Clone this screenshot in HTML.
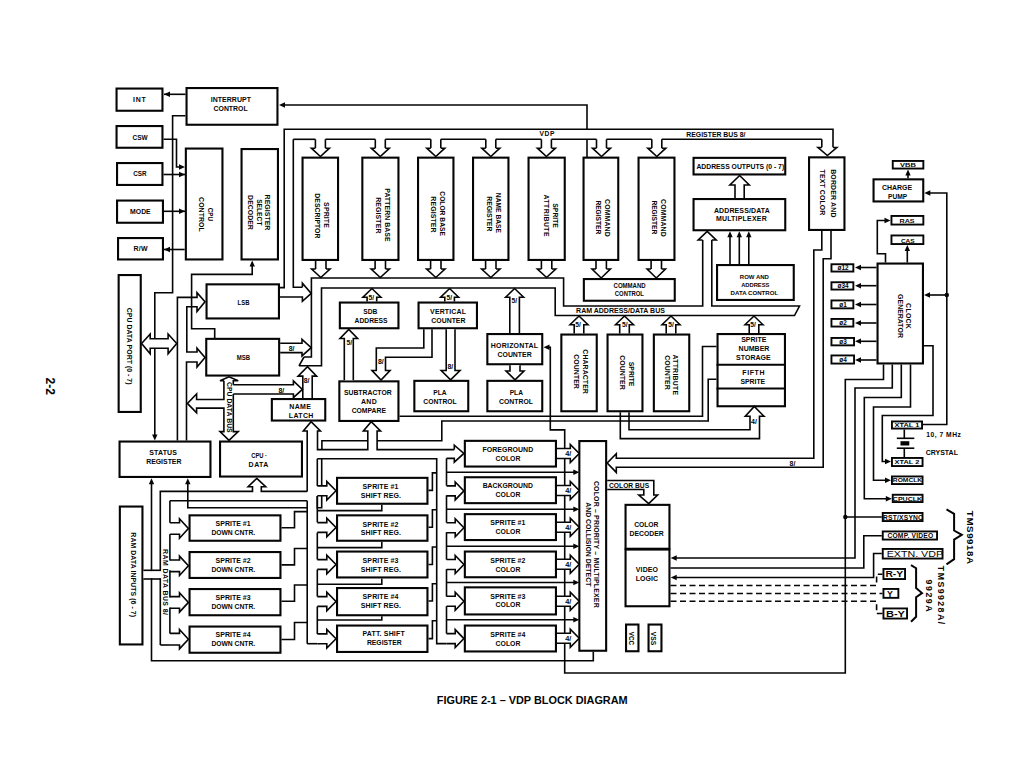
<!DOCTYPE html>
<html><head><meta charset="utf-8"><title>VDP Block Diagram</title>
<style>html,body{margin:0;padding:0;background:#fff;width:1024px;height:768px;overflow:hidden}svg{display:block;font-family:"Liberation Sans",sans-serif}</style>
</head><body>
<svg width="1024" height="768" viewBox="0 0 1024 768" font-family="Liberation Sans, sans-serif" fill="#050505">
<polyline points="185.5,94.3 164,94.3" fill="none" stroke="#050505" stroke-width="1.6" stroke-linejoin="miter"/>
<polygon points="164,94.3 170,91.6 170,97" fill="#050505"/>
<polyline points="185.5,115.8 172.6,115.8 172.6,292.8 154.8,292.8 154.8,436" fill="none" stroke="#050505" stroke-width="1.6" stroke-linejoin="miter"/>
<polygon points="154.8,440.5 152.1,434.5 157.5,434.5" fill="#050505"/>
<polyline points="587,129.2 587,105 283,105" fill="none" stroke="#050505" stroke-width="1.6" stroke-linejoin="miter"/>
<polyline points="587,139.3 587,157" fill="none" stroke="#050505" stroke-width="1.6" stroke-linejoin="miter"/>
<polygon points="279,105 285,102.3 285,107.7" fill="#050505"/>
<polyline points="163.5,139.3 176.5,139.3 176.5,167 180,167" fill="none" stroke="#050505" stroke-width="1.6" stroke-linejoin="miter"/>
<polygon points="185,167 179,164.3 179,169.7" fill="#050505"/>
<polyline points="163.5,174.5 185,174.5" fill="none" stroke="#050505" stroke-width="1.6" stroke-linejoin="miter"/>
<polygon points="185,174.5 179,171.8 179,177.2" fill="#050505"/>
<polyline points="164,211.3 185,211.3" fill="none" stroke="#050505" stroke-width="1.6" stroke-linejoin="miter"/>
<polygon points="185,211.3 179,208.6 179,214" fill="#050505"/>
<polyline points="184.7,249.5 164,249.5" fill="none" stroke="#050505" stroke-width="1.6" stroke-linejoin="miter"/>
<polygon points="164,249.5 170,246.8 170,252.2" fill="#050505"/>
<polyline points="214.7,338 214.7,328.7 191.6,328.7 191.6,274.4 252.2,274.4 252.2,264" fill="none" stroke="#050505" stroke-width="1.6" stroke-linejoin="miter"/>
<polygon points="252.2,260.5 249.5,266.5 254.9,266.5" fill="#050505"/>
<polyline points="280,287.6 284.2,287.6 284.2,129.2 833,129.2 833,147.5" fill="none" stroke="#050505" stroke-width="1.6" stroke-linejoin="miter"/>
<polyline points="293.3,139.3 315.4,139.3" fill="none" stroke="#050505" stroke-width="1.6" stroke-linejoin="miter"/>
<polyline points="325.4,139.3 375.3,139.3" fill="none" stroke="#050505" stroke-width="1.6" stroke-linejoin="miter"/>
<polyline points="385.3,139.3 430.8,139.3" fill="none" stroke="#050505" stroke-width="1.6" stroke-linejoin="miter"/>
<polyline points="440.8,139.3 485.8,139.3" fill="none" stroke="#050505" stroke-width="1.6" stroke-linejoin="miter"/>
<polyline points="495.8,139.3 541.4,139.3" fill="none" stroke="#050505" stroke-width="1.6" stroke-linejoin="miter"/>
<polyline points="551.4,139.3 596.5,139.3" fill="none" stroke="#050505" stroke-width="1.6" stroke-linejoin="miter"/>
<polyline points="606.5,139.3 651.8,139.3" fill="none" stroke="#050505" stroke-width="1.6" stroke-linejoin="miter"/>
<polyline points="661.8,139.3 821.8,139.3" fill="none" stroke="#050505" stroke-width="1.6" stroke-linejoin="miter"/>
<polyline points="293.3,139.3 293.3,287.3 302.4,287.3" fill="none" stroke="#050505" stroke-width="1.6" stroke-linejoin="miter"/>
<polyline points="821.8,139.3 821.8,147.5" fill="none" stroke="#050505" stroke-width="1.6" stroke-linejoin="miter"/>
<polyline points="315.4,139.3 315.4,148.2" fill="none" stroke="#050505" stroke-width="1.6" stroke-linejoin="miter"/>
<polyline points="325.4,139.3 325.4,148.2" fill="none" stroke="#050505" stroke-width="1.6" stroke-linejoin="miter"/>
<polyline points="315.4,148.2 311.4,148.2 320.4,156.5 329.4,148.2 325.4,148.2" fill="#fff" stroke="#050505" stroke-width="1.6" stroke-linejoin="miter"/>
<polyline points="375.3,139.3 375.3,148.2" fill="none" stroke="#050505" stroke-width="1.6" stroke-linejoin="miter"/>
<polyline points="385.3,139.3 385.3,148.2" fill="none" stroke="#050505" stroke-width="1.6" stroke-linejoin="miter"/>
<polyline points="375.3,148.2 371.3,148.2 380.3,156.5 389.3,148.2 385.3,148.2" fill="#fff" stroke="#050505" stroke-width="1.6" stroke-linejoin="miter"/>
<polyline points="430.8,139.3 430.8,148.2" fill="none" stroke="#050505" stroke-width="1.6" stroke-linejoin="miter"/>
<polyline points="440.8,139.3 440.8,148.2" fill="none" stroke="#050505" stroke-width="1.6" stroke-linejoin="miter"/>
<polyline points="430.8,148.2 426.8,148.2 435.8,156.5 444.8,148.2 440.8,148.2" fill="#fff" stroke="#050505" stroke-width="1.6" stroke-linejoin="miter"/>
<polyline points="485.8,139.3 485.8,148.2" fill="none" stroke="#050505" stroke-width="1.6" stroke-linejoin="miter"/>
<polyline points="495.8,139.3 495.8,148.2" fill="none" stroke="#050505" stroke-width="1.6" stroke-linejoin="miter"/>
<polyline points="485.8,148.2 481.8,148.2 490.8,156.5 499.8,148.2 495.8,148.2" fill="#fff" stroke="#050505" stroke-width="1.6" stroke-linejoin="miter"/>
<polyline points="541.4,139.3 541.4,148.2" fill="none" stroke="#050505" stroke-width="1.6" stroke-linejoin="miter"/>
<polyline points="551.4,139.3 551.4,148.2" fill="none" stroke="#050505" stroke-width="1.6" stroke-linejoin="miter"/>
<polyline points="541.4,148.2 537.4,148.2 546.4,156.5 555.4,148.2 551.4,148.2" fill="#fff" stroke="#050505" stroke-width="1.6" stroke-linejoin="miter"/>
<polyline points="596.5,139.3 596.5,148.2" fill="none" stroke="#050505" stroke-width="1.6" stroke-linejoin="miter"/>
<polyline points="606.5,139.3 606.5,148.2" fill="none" stroke="#050505" stroke-width="1.6" stroke-linejoin="miter"/>
<polyline points="596.5,148.2 592.5,148.2 601.5,156.5 610.5,148.2 606.5,148.2" fill="#fff" stroke="#050505" stroke-width="1.6" stroke-linejoin="miter"/>
<polyline points="651.8,139.3 651.8,148.2" fill="none" stroke="#050505" stroke-width="1.6" stroke-linejoin="miter"/>
<polyline points="661.8,139.3 661.8,148.2" fill="none" stroke="#050505" stroke-width="1.6" stroke-linejoin="miter"/>
<polyline points="651.8,148.2 647.8,148.2 656.8,156.5 665.8,148.2 661.8,148.2" fill="#fff" stroke="#050505" stroke-width="1.6" stroke-linejoin="miter"/>
<polyline points="821.8,147.5 818,147.5 827.4,155.5 836.8,147.5 833,147.5" fill="#fff" stroke="#050505" stroke-width="1.6" stroke-linejoin="miter"/>
<polyline points="304,357 311.4,357 311.4,278 563.6,278 563.6,306 702.7,306 702.7,240" fill="none" stroke="#050505" stroke-width="1.6" stroke-linejoin="miter"/>
<polyline points="299,365.8 321.5,365.8 321.5,288 555.2,288 555.2,315.5 794.5,315.5 799.5,306 711.8,306 711.8,240" fill="none" stroke="#050505" stroke-width="1.6" stroke-linejoin="miter"/>
<polyline points="304,357 299,365.8" fill="none" stroke="#050505" stroke-width="1.6" stroke-linejoin="miter"/>
<polyline points="315.6,261 315.6,269" fill="none" stroke="#050505" stroke-width="1.6" stroke-linejoin="miter"/>
<polyline points="326,261 326,269" fill="none" stroke="#050505" stroke-width="1.6" stroke-linejoin="miter"/>
<polyline points="315.6,269 311.6,269 320.8,277.5 330,269 326,269" fill="#fff" stroke="#050505" stroke-width="1.6" stroke-linejoin="miter"/>
<polyline points="375.1,261 375.1,269" fill="none" stroke="#050505" stroke-width="1.6" stroke-linejoin="miter"/>
<polyline points="385.5,261 385.5,269" fill="none" stroke="#050505" stroke-width="1.6" stroke-linejoin="miter"/>
<polyline points="375.1,269 371.1,269 380.3,277.5 389.5,269 385.5,269" fill="#fff" stroke="#050505" stroke-width="1.6" stroke-linejoin="miter"/>
<polyline points="430.6,261 430.6,269" fill="none" stroke="#050505" stroke-width="1.6" stroke-linejoin="miter"/>
<polyline points="441,261 441,269" fill="none" stroke="#050505" stroke-width="1.6" stroke-linejoin="miter"/>
<polyline points="430.6,269 426.6,269 435.8,277.5 445,269 441,269" fill="#fff" stroke="#050505" stroke-width="1.6" stroke-linejoin="miter"/>
<polyline points="485.6,261 485.6,269" fill="none" stroke="#050505" stroke-width="1.6" stroke-linejoin="miter"/>
<polyline points="496,261 496,269" fill="none" stroke="#050505" stroke-width="1.6" stroke-linejoin="miter"/>
<polyline points="485.6,269 481.6,269 490.8,277.5 500,269 496,269" fill="#fff" stroke="#050505" stroke-width="1.6" stroke-linejoin="miter"/>
<polyline points="541.4,261 541.4,269" fill="none" stroke="#050505" stroke-width="1.6" stroke-linejoin="miter"/>
<polyline points="551.8,261 551.8,269" fill="none" stroke="#050505" stroke-width="1.6" stroke-linejoin="miter"/>
<polyline points="541.4,269 537.4,269 546.6,277.5 555.8,269 551.8,269" fill="#fff" stroke="#050505" stroke-width="1.6" stroke-linejoin="miter"/>
<polyline points="596,260 596,269" fill="none" stroke="#050505" stroke-width="1.6" stroke-linejoin="miter"/>
<polyline points="606.4,260 606.4,269" fill="none" stroke="#050505" stroke-width="1.6" stroke-linejoin="miter"/>
<polyline points="596,269 592,269 601.2,278 610.4,269 606.4,269" fill="#fff" stroke="#050505" stroke-width="1.6" stroke-linejoin="miter"/>
<polyline points="651.1,260 651.1,269" fill="none" stroke="#050505" stroke-width="1.6" stroke-linejoin="miter"/>
<polyline points="661.5,260 661.5,269" fill="none" stroke="#050505" stroke-width="1.6" stroke-linejoin="miter"/>
<polyline points="651.1,269 647.1,269 656.3,278 665.5,269 661.5,269" fill="#fff" stroke="#050505" stroke-width="1.6" stroke-linejoin="miter"/>
<polyline points="280,297 302.4,297 302.4,301.3 311.2,293.4 302.4,283.2 302.4,287.3" fill="none" stroke="#050505" stroke-width="1.6" stroke-linejoin="miter"/>
<polyline points="280.2,343.3 302,343.3 302,339.4 311.2,347.7 302,355.9 302,352.6 280.2,352.6" fill="none" stroke="#050505" stroke-width="1.6" stroke-linejoin="miter"/>
<polyline points="302.8,398 302.8,376.1 298.1,376.1 307.5,366.7 316.6,376.1 312.2,376.1 312.2,398" fill="none" stroke="#050505" stroke-width="1.6" stroke-linejoin="miter"/>
<polyline points="233.3,384.7 293.4,384.7 293.4,380.8 302.4,389.4 293.4,397.6 293.4,394 233.3,394" fill="none" stroke="#050505" stroke-width="1.6" stroke-linejoin="miter"/>
<polyline points="367.1,301.5 367.1,297.3 362.9,297.3 371.9,288.5 380.9,297.3 376.7,297.3 376.7,301.5" fill="#fff" stroke="#050505" stroke-width="1.6" stroke-linejoin="miter"/>
<polyline points="444.8,301.5 444.8,297.3 440.6,297.3 449.6,288.5 458.6,297.3 454.4,297.3 454.4,301.5" fill="#fff" stroke="#050505" stroke-width="1.6" stroke-linejoin="miter"/>
<polyline points="509.8,333 509.8,297.3 505.6,297.3 514.6,288.5 523.6,297.3 519.4,297.3 519.4,333" fill="#fff" stroke="#050505" stroke-width="1.6" stroke-linejoin="miter"/>
<polyline points="574.2,333.5 574.2,324.8 570,324.8 579,316 588,324.8 583.8,324.8 583.8,333.5" fill="#fff" stroke="#050505" stroke-width="1.6" stroke-linejoin="miter"/>
<polyline points="619.7,333.5 619.7,324.8 615.5,324.8 624.5,316 633.5,324.8 629.3,324.8 629.3,333.5" fill="#fff" stroke="#050505" stroke-width="1.6" stroke-linejoin="miter"/>
<polyline points="666.2,333.5 666.2,324.8 662,324.8 671,316 680,324.8 675.8,324.8 675.8,333.5" fill="#fff" stroke="#050505" stroke-width="1.6" stroke-linejoin="miter"/>
<polyline points="749.2,333 749.2,324.8 745,324.8 754,316 763,324.8 758.8,324.8 758.8,333" fill="#fff" stroke="#050505" stroke-width="1.6" stroke-linejoin="miter"/>
<polyline points="702.6,240 702.6,240 698.2,240 707.2,231.3 716.2,240 711.8,240 711.8,240" fill="#fff" stroke="#050505" stroke-width="1.6" stroke-linejoin="miter"/>
<polyline points="735,198 735,185 729.9,185 739.6,175.5 749.3,185 744.2,185 744.2,198" fill="#fff" stroke="#050505" stroke-width="1.6" stroke-linejoin="miter"/>
<polyline points="730,264 730,235" fill="none" stroke="#050505" stroke-width="1.6" stroke-linejoin="miter"/>
<polygon points="730,231.3 727.3,237.3 732.7,237.3" fill="#050505"/>
<polyline points="739.3,264 739.3,235" fill="none" stroke="#050505" stroke-width="1.6" stroke-linejoin="miter"/>
<polygon points="739.3,231.3 736.6,237.3 742,237.3" fill="#050505"/>
<polyline points="748.8,264 748.8,235" fill="none" stroke="#050505" stroke-width="1.6" stroke-linejoin="miter"/>
<polygon points="748.8,231.3 746.1,237.3 751.5,237.3" fill="#050505"/>
<rect x="116.55" y="88.55" width="45.9" height="22.2" fill="#fff" stroke="#050505" stroke-width="2.1"/>
<rect x="116.55" y="126.05" width="45.9" height="21.7" fill="#fff" stroke="#050505" stroke-width="2.1"/>
<rect x="117.05" y="163.05" width="45.4" height="21.9" fill="#fff" stroke="#050505" stroke-width="2.1"/>
<rect x="117.05" y="200.55" width="45.9" height="22.2" fill="#fff" stroke="#050505" stroke-width="2.1"/>
<rect x="118.05" y="238.05" width="44.9" height="21.4" fill="#fff" stroke="#050505" stroke-width="2.1"/>
<rect x="186.55" y="88.05" width="90.9" height="36.7" fill="#fff" stroke="#050505" stroke-width="2.1"/>
<rect x="185.85" y="148.55" width="36.6" height="110.9" fill="#fff" stroke="#050505" stroke-width="2.1"/>
<rect x="241.55" y="149.05" width="36.4" height="110.4" fill="#fff" stroke="#050505" stroke-width="2.1"/>
<rect x="118.65" y="275.05" width="22.1" height="136.9" fill="#fff" stroke="#050505" stroke-width="2.1"/>
<rect x="206.55" y="284.35" width="72.4" height="34.1" fill="#fff" stroke="#050505" stroke-width="2.1"/>
<rect x="206.25" y="338.85" width="72.9" height="36.7" fill="#fff" stroke="#050505" stroke-width="2.1"/>
<rect x="271.85" y="399.05" width="53.4" height="21.5" fill="#fff" stroke="#050505" stroke-width="2.1"/>
<rect x="119.55" y="441.55" width="90.9" height="35.4" fill="#fff" stroke="#050505" stroke-width="2.1"/>
<rect x="220.05" y="441.55" width="81.9" height="35" fill="#fff" stroke="#050505" stroke-width="2.1"/>
<rect x="119.85" y="506.55" width="22.6" height="137.9" fill="#fff" stroke="#050505" stroke-width="2.1"/>
<rect x="189.55" y="515.35" width="90.9" height="25.4" fill="#fff" stroke="#050505" stroke-width="2.1"/>
<rect x="189.55" y="552.05" width="90.9" height="25.9" fill="#fff" stroke="#050505" stroke-width="2.1"/>
<rect x="189.55" y="589.05" width="90.9" height="26.2" fill="#fff" stroke="#050505" stroke-width="2.1"/>
<rect x="189.55" y="626.55" width="90.9" height="26.2" fill="#fff" stroke="#050505" stroke-width="2.1"/>
<rect x="302.55" y="157.65" width="35.5" height="102.3" fill="#fff" stroke="#050505" stroke-width="2.1"/>
<rect x="362.35" y="157.65" width="36.1" height="102.3" fill="#fff" stroke="#050505" stroke-width="2.1"/>
<rect x="418.05" y="157.65" width="35.4" height="102.3" fill="#fff" stroke="#050505" stroke-width="2.1"/>
<rect x="473.05" y="157.65" width="35.4" height="102.3" fill="#fff" stroke="#050505" stroke-width="2.1"/>
<rect x="528.55" y="157.65" width="36.2" height="102.3" fill="#fff" stroke="#050505" stroke-width="2.1"/>
<rect x="583.55" y="157.65" width="34.7" height="102.3" fill="#fff" stroke="#050505" stroke-width="2.1"/>
<rect x="638.55" y="157.65" width="35.9" height="102.3" fill="#fff" stroke="#050505" stroke-width="2.1"/>
<rect x="809.05" y="157.35" width="35.4" height="72.6" fill="#fff" stroke="#050505" stroke-width="2.1"/>
<rect x="693.55" y="157.85" width="91.7" height="16.6" fill="#fff" stroke="#050505" stroke-width="2.1"/>
<rect x="693.55" y="199.05" width="91.7" height="31.2" fill="#fff" stroke="#050505" stroke-width="2.1"/>
<rect x="717.05" y="265.05" width="76.7" height="34.9" fill="#fff" stroke="#050505" stroke-width="2.1"/>
<rect x="583.85" y="279.05" width="90.9" height="21.7" fill="#fff" stroke="#050505" stroke-width="2.1"/>
<rect x="339.85" y="302.55" width="58.6" height="25.7" fill="#fff" stroke="#050505" stroke-width="2.1"/>
<rect x="418.55" y="302.55" width="58.4" height="25.7" fill="#fff" stroke="#050505" stroke-width="2.1"/>
<rect x="487.35" y="334.05" width="54.9" height="30.2" fill="#fff" stroke="#050505" stroke-width="2.1"/>
<rect x="339.35" y="381.35" width="59.1" height="39.6" fill="#fff" stroke="#050505" stroke-width="2.1"/>
<rect x="414.35" y="380.85" width="53.9" height="30.4" fill="#fff" stroke="#050505" stroke-width="2.1"/>
<rect x="487.35" y="380.85" width="54.9" height="30.4" fill="#fff" stroke="#050505" stroke-width="2.1"/>
<rect x="561.35" y="334.55" width="35.4" height="76.7" fill="#fff" stroke="#050505" stroke-width="2.1"/>
<rect x="607.55" y="334.55" width="34.9" height="76.7" fill="#fff" stroke="#050505" stroke-width="2.1"/>
<rect x="653.85" y="334.55" width="35.4" height="76.7" fill="#fff" stroke="#050505" stroke-width="2.1"/>
<rect x="717.55" y="334.05" width="67.4" height="72.2" fill="#fff" stroke="#050505" stroke-width="2.1"/>
<polyline points="716.5,364.8 786,364.8" fill="none" stroke="#050505" stroke-width="2.1" stroke-linejoin="miter"/>
<polyline points="716.5,388.5 786,388.5" fill="none" stroke="#050505" stroke-width="2.1" stroke-linejoin="miter"/>
<rect x="337.05" y="477.85" width="90.4" height="25.9" fill="#fff" stroke="#050505" stroke-width="2.1"/>
<rect x="337.05" y="515.35" width="90.4" height="25.4" fill="#fff" stroke="#050505" stroke-width="2.1"/>
<rect x="337.05" y="551.55" width="90.4" height="25.9" fill="#fff" stroke="#050505" stroke-width="2.1"/>
<rect x="337.05" y="588.05" width="90.4" height="27.2" fill="#fff" stroke="#050505" stroke-width="2.1"/>
<rect x="337.05" y="625.55" width="90.4" height="26.4" fill="#fff" stroke="#050505" stroke-width="2.1"/>
<rect x="464.85" y="440.85" width="91.1" height="25.7" fill="#fff" stroke="#050505" stroke-width="2.1"/>
<rect x="464.85" y="477.25" width="91.1" height="25.9" fill="#fff" stroke="#050505" stroke-width="2.1"/>
<rect x="464.85" y="514.15" width="91.1" height="25.9" fill="#fff" stroke="#050505" stroke-width="2.1"/>
<rect x="464.85" y="551.55" width="91.1" height="25.7" fill="#fff" stroke="#050505" stroke-width="2.1"/>
<rect x="464.85" y="587.35" width="91.1" height="27.1" fill="#fff" stroke="#050505" stroke-width="2.1"/>
<rect x="464.85" y="625.55" width="91.1" height="25.9" fill="#fff" stroke="#050505" stroke-width="2.1"/>
<rect x="579.35" y="441.05" width="26.8" height="209.7" fill="#fff" stroke="#050505" stroke-width="2.1"/>
<rect x="625.55" y="504.85" width="43.9" height="43.9" fill="#fff" stroke="#050505" stroke-width="2.1"/>
<rect x="625.55" y="549.55" width="43.9" height="56.7" fill="#fff" stroke="#050505" stroke-width="2.1"/>
<rect x="626.05" y="624.55" width="12.4" height="26.7" fill="#fff" stroke="#050505" stroke-width="2.1"/>
<rect x="648.55" y="624.55" width="12.9" height="26.7" fill="#fff" stroke="#050505" stroke-width="2.1"/>
<rect x="892.75" y="160.95" width="30.6" height="7.6" fill="#fff" stroke="#050505" stroke-width="1.9"/>
<rect x="891.45" y="215.95" width="31.9" height="8.6" fill="#fff" stroke="#050505" stroke-width="1.9"/>
<rect x="891.45" y="235.45" width="31.9" height="8.6" fill="#fff" stroke="#050505" stroke-width="1.9"/>
<rect x="831.45" y="264.25" width="21.9" height="7.3" fill="#fff" stroke="#050505" stroke-width="1.9"/>
<rect x="831.45" y="282.25" width="21.9" height="7.3" fill="#fff" stroke="#050505" stroke-width="1.9"/>
<rect x="831.45" y="300.45" width="21.9" height="7.9" fill="#fff" stroke="#050505" stroke-width="1.9"/>
<rect x="831.45" y="318.95" width="21.9" height="7.6" fill="#fff" stroke="#050505" stroke-width="1.9"/>
<rect x="831.45" y="337.95" width="22.6" height="7.4" fill="#fff" stroke="#050505" stroke-width="1.9"/>
<rect x="831.45" y="355.45" width="22.6" height="8.1" fill="#fff" stroke="#050505" stroke-width="1.9"/>
<rect x="891.95" y="421.45" width="30.1" height="7.1" fill="#fff" stroke="#050505" stroke-width="1.9"/>
<rect x="891.95" y="457.95" width="30.6" height="8.1" fill="#fff" stroke="#050505" stroke-width="1.9"/>
<rect x="891.95" y="476.45" width="30.6" height="7.6" fill="#fff" stroke="#050505" stroke-width="1.9"/>
<rect x="892.75" y="494.75" width="29.8" height="7.3" fill="#fff" stroke="#050505" stroke-width="1.9"/>
<rect x="882.75" y="512.95" width="39.8" height="8.1" fill="#fff" stroke="#050505" stroke-width="1.9"/>
<rect x="882.75" y="531.45" width="54.3" height="8.1" fill="#fff" stroke="#050505" stroke-width="1.9"/>
<rect x="882.75" y="548.95" width="59.8" height="9.6" fill="#fff" stroke="#050505" stroke-width="1.9"/>
<rect x="883.45" y="568.95" width="21.6" height="10.1" fill="#fff" stroke="#050505" stroke-width="1.9"/>
<rect x="883.45" y="588.95" width="14.9" height="8.9" fill="#fff" stroke="#050505" stroke-width="1.9"/>
<rect x="883.45" y="608.45" width="23.6" height="10.1" fill="#fff" stroke="#050505" stroke-width="1.9"/>
<rect x="873.55" y="179.35" width="49.7" height="22.1" fill="#fff" stroke="#050505" stroke-width="2.1"/>
<rect x="877.55" y="263.55" width="45.4" height="99.9" fill="#fff" stroke="#050505" stroke-width="2.1"/>
<polygon points="141.6,343.5 150.2,334 150.2,338.8 168.1,338.8 168.1,334 176.7,343.5 168.1,353.7 168.1,348.2 150.2,348.2 150.2,353.7" fill="#fff" stroke="#050505" stroke-width="1.6" stroke-linejoin="miter"/>
<polyline points="177.4,440.5 177.4,297.4 197,297.4 197,292.7 205,301.8 197,311.5 197,306.8 186.8,306.8 186.8,352 197,352 197,348.2 205,357.6 197,367 197,362 186.5,362 186.5,440.5" fill="none" stroke="#050505" stroke-width="1.6" stroke-linejoin="miter"/>
<polyline points="223.9,380.8 223.9,399.5 196.6,399.5 196.6,394 187.4,403.4 196.6,412.8 196.6,408.1 223.9,408.1 223.9,431.6 220,431.6 229,440.3 238.2,431.6 233.3,431.6 233.3,394" fill="none" stroke="#050505" stroke-width="1.6" stroke-linejoin="miter"/>
<polyline points="233.3,384.7 233.3,380.8 238.2,380.8 229,376.8 220,380.8 223.9,380.8" fill="none" stroke="#050505" stroke-width="1.6" stroke-linejoin="miter"/>
<polyline points="160.3,645 160.3,491.4 252.5,491.4 252.5,486.7 248.1,486.7 256.8,478.3 265.7,486.7 261.3,486.7 261.3,491.4 307.2,491.4" fill="none" stroke="#050505" stroke-width="1.6" stroke-linejoin="miter"/>
<polyline points="151.5,482 151.5,660.8 593.3,660.8 593.3,651.8" fill="none" stroke="#050505" stroke-width="1.6" stroke-linejoin="miter"/>
<polygon points="151.5,478.2 148.8,484.2 154.2,484.2" fill="#050505"/>
<polyline points="187.8,482 187.8,507.8 307.2,507.8" fill="none" stroke="#050505" stroke-width="1.6" stroke-linejoin="miter"/>
<polygon points="187.8,478.2 185.1,484.2 190.5,484.2" fill="#050505"/>
<polyline points="307.2,643.7 307.2,500.8" fill="none" stroke="#050505" stroke-width="1.6" stroke-linejoin="miter"/>
<polyline points="307.2,491.4 307.2,431 303.3,431 311.1,421.8 320.4,431 317.5,431 317.5,449.6 367.8,449.6 367.8,431 363.4,431 371.2,421.8 380.5,431 377.1,431 377.1,449.6 454.3,449.6" fill="none" stroke="#050505" stroke-width="1.6" stroke-linejoin="miter"/>
<polyline points="321.9,449.6 321.9,440.8 367.8,440.8" fill="none" stroke="#050505" stroke-width="1.6" stroke-linejoin="miter"/>
<polyline points="377.1,440.8 441.8,440.8 441.8,421 708.2,421 708.2,379.3 716.5,379.3" fill="none" stroke="#050505" stroke-width="1.6" stroke-linejoin="miter"/>
<polyline points="399.5,416.2 702.5,416.2 702.5,346.5 716.5,346.5" fill="none" stroke="#050505" stroke-width="1.6" stroke-linejoin="miter"/>
<polyline points="454.3,449.6 454.3,445.2 463.9,453.4 454.3,462.2 454.3,458.4 446.5,458.4" fill="none" stroke="#050505" stroke-width="1.6" stroke-linejoin="miter"/>
<polyline points="169.9,500.8 169.9,522.7" fill="none" stroke="#050505" stroke-width="1.6" stroke-linejoin="miter"/>
<polyline points="169.9,534.2 169.9,560.5" fill="none" stroke="#050505" stroke-width="1.6" stroke-linejoin="miter"/>
<polyline points="169.9,570.2 169.9,597.4" fill="none" stroke="#050505" stroke-width="1.6" stroke-linejoin="miter"/>
<polyline points="169.9,607.4 169.9,633.4" fill="none" stroke="#050505" stroke-width="1.6" stroke-linejoin="miter"/>
<polyline points="169.9,500.8 307.2,500.8" fill="none" stroke="#050505" stroke-width="1.6" stroke-linejoin="miter"/>
<polyline points="169.9,522.7 179.5,522.7 179.5,518.8 188.4,528.5 179.5,538.2 179.5,534.3 169.9,534.3" fill="none" stroke="#050505" stroke-width="1.6" stroke-linejoin="miter"/>
<polyline points="169.9,560 179.5,560 179.5,556.1 188.4,565.8 179.5,575.5 179.5,571.6 169.9,571.6" fill="none" stroke="#050505" stroke-width="1.6" stroke-linejoin="miter"/>
<polyline points="169.9,596.6 179.5,596.6 179.5,592.7 188.4,602.4 179.5,612.1 179.5,608.2 169.9,608.2" fill="none" stroke="#050505" stroke-width="1.6" stroke-linejoin="miter"/>
<polyline points="169.9,633.4 179.5,633.4 179.5,629.5 188.4,639.2 179.5,648.9 179.5,645 169.9,645" fill="none" stroke="#050505" stroke-width="1.6" stroke-linejoin="miter"/>
<polyline points="160.3,645 169.9,645" fill="none" stroke="#050505" stroke-width="1.6" stroke-linejoin="miter"/>
<polyline points="281.5,527.7 294.5,527.7 294.5,511.6 307.2,511.6" fill="none" stroke="#050505" stroke-width="1.6" stroke-linejoin="miter"/>
<polyline points="281.5,564.9 294.5,564.9 294.5,548.5 307.2,548.5" fill="none" stroke="#050505" stroke-width="1.6" stroke-linejoin="miter"/>
<polyline points="281.5,601.3 294.5,601.3 294.5,585 307.2,585" fill="none" stroke="#050505" stroke-width="1.6" stroke-linejoin="miter"/>
<polyline points="281.5,639.5 294.5,639.5 294.5,622.5 307.2,622.5" fill="none" stroke="#050505" stroke-width="1.6" stroke-linejoin="miter"/>
<rect x="143.5" y="571.1" width="18.2" height="7.1" fill="#fff"/>
<polyline points="143.5,570.3 160.3,570.3" fill="none" stroke="#050505" stroke-width="1.6" stroke-linejoin="miter"/>
<polyline points="143.5,579 160.3,579" fill="none" stroke="#050505" stroke-width="1.6" stroke-linejoin="miter"/>
<polyline points="317.3,458.8 317.3,486" fill="none" stroke="#050505" stroke-width="1.6" stroke-linejoin="miter"/>
<polyline points="317.3,496 317.3,522.3" fill="none" stroke="#050505" stroke-width="1.6" stroke-linejoin="miter"/>
<polyline points="317.3,532.6 317.3,559.5" fill="none" stroke="#050505" stroke-width="1.6" stroke-linejoin="miter"/>
<polyline points="317.3,569.5 317.3,596.5" fill="none" stroke="#050505" stroke-width="1.6" stroke-linejoin="miter"/>
<polyline points="317.3,606.5 317.3,634" fill="none" stroke="#050505" stroke-width="1.6" stroke-linejoin="miter"/>
<polyline points="317.3,458.8 436.7,458.8 436.7,643.6 446.5,643.6" fill="none" stroke="#050505" stroke-width="1.6" stroke-linejoin="miter"/>
<polyline points="321.7,458.8 321.7,486" fill="none" stroke="#050505" stroke-width="1.6" stroke-linejoin="miter"/>
<polyline points="317.3,496 317.3,507.8 321.7,507.8 321.7,496" fill="none" stroke="#050505" stroke-width="1.6" stroke-linejoin="miter"/>
<polyline points="317.3,485.9 326.8,485.9 326.8,481.5 336,490.8 326.8,500.1 326.8,495.7 317.3,495.7" fill="none" stroke="#050505" stroke-width="1.6" stroke-linejoin="miter"/>
<polyline points="317.3,522.6 326.8,522.6 326.8,518.2 336,527.5 326.8,536.8 326.8,532.4 317.3,532.4" fill="none" stroke="#050505" stroke-width="1.6" stroke-linejoin="miter"/>
<polyline points="317.3,559.6 326.8,559.6 326.8,555.2 336,564.5 326.8,573.8 326.8,569.4 317.3,569.4" fill="none" stroke="#050505" stroke-width="1.6" stroke-linejoin="miter"/>
<polyline points="317.3,596.6 326.8,596.6 326.8,592.2 336,601.5 326.8,610.8 326.8,606.4 317.3,606.4" fill="none" stroke="#050505" stroke-width="1.6" stroke-linejoin="miter"/>
<polyline points="317.3,633.9 326.8,633.9 326.8,629.5 336,638.8 326.8,648.1 326.8,643.7 317.3,643.7" fill="none" stroke="#050505" stroke-width="1.6" stroke-linejoin="miter"/>
<polyline points="307.2,643.7 317.3,643.7" fill="none" stroke="#050505" stroke-width="1.6" stroke-linejoin="miter"/>
<polyline points="381.8,504.8 381.8,510.6 317.3,510.6" fill="none" stroke="#050505" stroke-width="1.6" stroke-linejoin="miter"/>
<polyline points="381.8,541.8 381.8,547.6 317.3,547.6" fill="none" stroke="#050505" stroke-width="1.6" stroke-linejoin="miter"/>
<polyline points="381.8,578.5 381.8,584.3 317.3,584.3" fill="none" stroke="#050505" stroke-width="1.6" stroke-linejoin="miter"/>
<polyline points="381.8,616.3 381.8,620 317.3,620" fill="none" stroke="#050505" stroke-width="1.6" stroke-linejoin="miter"/>
<polyline points="428.5,490.4 432.4,490.4 432.4,472.9 436.7,472.9" fill="none" stroke="#050505" stroke-width="1.6" stroke-linejoin="miter"/>
<polyline points="428.5,527.3 432.4,527.3 432.4,509.8 436.7,509.8" fill="none" stroke="#050505" stroke-width="1.6" stroke-linejoin="miter"/>
<polyline points="428.5,564.5 432.4,564.5 432.4,547 436.7,547" fill="none" stroke="#050505" stroke-width="1.6" stroke-linejoin="miter"/>
<polyline points="428.5,601 432.4,601 432.4,583.8 436.7,583.8" fill="none" stroke="#050505" stroke-width="1.6" stroke-linejoin="miter"/>
<polyline points="428.5,638.6 432.4,638.6 432.4,620.8 436.7,620.8" fill="none" stroke="#050505" stroke-width="1.6" stroke-linejoin="miter"/>
<polyline points="446.5,458.4 446.5,485.6" fill="none" stroke="#050505" stroke-width="1.6" stroke-linejoin="miter"/>
<polyline points="446.5,495.3 446.5,522.6" fill="none" stroke="#050505" stroke-width="1.6" stroke-linejoin="miter"/>
<polyline points="446.5,532.2 446.5,559.6" fill="none" stroke="#050505" stroke-width="1.6" stroke-linejoin="miter"/>
<polyline points="446.5,569.2 446.5,596.6" fill="none" stroke="#050505" stroke-width="1.6" stroke-linejoin="miter"/>
<polyline points="446.5,606.2 446.5,633.6" fill="none" stroke="#050505" stroke-width="1.6" stroke-linejoin="miter"/>
<polyline points="446.5,485.9 455.2,485.9 455.2,481.9 463.9,490.9 455.2,499.9 455.2,495.9 446.5,495.9" fill="none" stroke="#050505" stroke-width="1.6" stroke-linejoin="miter"/>
<polyline points="446.5,522.8 455.2,522.8 455.2,518.8 463.9,527.8 455.2,536.8 455.2,532.8 446.5,532.8" fill="none" stroke="#050505" stroke-width="1.6" stroke-linejoin="miter"/>
<polyline points="446.5,559.5 455.2,559.5 455.2,555.5 463.9,564.5 455.2,573.5 455.2,569.5 446.5,569.5" fill="none" stroke="#050505" stroke-width="1.6" stroke-linejoin="miter"/>
<polyline points="446.5,596.3 455.2,596.3 455.2,592.3 463.9,601.3 455.2,610.3 455.2,606.3 446.5,606.3" fill="none" stroke="#050505" stroke-width="1.6" stroke-linejoin="miter"/>
<polyline points="446.5,633.6 455.2,633.6 455.2,629.6 463.9,638.6 455.2,647.6 455.2,643.6 446.5,643.6" fill="none" stroke="#050505" stroke-width="1.6" stroke-linejoin="miter"/>
<polyline points="446.5,472.2 575,472.2" fill="none" stroke="#050505" stroke-width="1.6" stroke-linejoin="miter"/>
<polygon points="579.3,472.2 573.3,469.5 573.3,474.9" fill="#050505"/>
<polyline points="446.5,509.3 575,509.3" fill="none" stroke="#050505" stroke-width="1.6" stroke-linejoin="miter"/>
<polygon points="579.3,509.3 573.3,506.6 573.3,512" fill="#050505"/>
<polyline points="446.5,546.2 575,546.2" fill="none" stroke="#050505" stroke-width="1.6" stroke-linejoin="miter"/>
<polygon points="579.3,546.2 573.3,543.5 573.3,548.9" fill="#050505"/>
<polyline points="446.5,582.5 575,582.5" fill="none" stroke="#050505" stroke-width="1.6" stroke-linejoin="miter"/>
<polygon points="579.3,582.5 573.3,579.8 573.3,585.2" fill="#050505"/>
<polyline points="446.5,619.8 575,619.8" fill="none" stroke="#050505" stroke-width="1.6" stroke-linejoin="miter"/>
<polygon points="579.3,619.8 573.3,617.1 573.3,622.5" fill="#050505"/>
<polyline points="547,347.3 550.3,347.3 550.3,429.9 564.7,429.9 564.7,673 845.3,673 845.3,379.5 883.5,379.5 883.5,364.5" fill="none" stroke="#050505" stroke-width="1.6" stroke-linejoin="miter"/>
<polygon points="543.5,347.3 549.5,344.6 549.5,350" fill="#050505"/>
<polyline points="557,448.5 570.3,448.5 570.3,444.5 579.2,453.5 570.3,462.5 570.3,458.5 557,458.5" fill="#fff" stroke="#050505" stroke-width="1.6" stroke-linejoin="miter"/>
<polyline points="557,485.5 570.3,485.5 570.3,481.5 579.2,490.5 570.3,499.5 570.3,495.5 557,495.5" fill="#fff" stroke="#050505" stroke-width="1.6" stroke-linejoin="miter"/>
<polyline points="557,522.3 570.3,522.3 570.3,518.3 579.2,527.3 570.3,536.3 570.3,532.3 557,532.3" fill="#fff" stroke="#050505" stroke-width="1.6" stroke-linejoin="miter"/>
<polyline points="557,559.3 570.3,559.3 570.3,555.3 579.2,564.3 570.3,573.3 570.3,569.3 557,569.3" fill="#fff" stroke="#050505" stroke-width="1.6" stroke-linejoin="miter"/>
<polyline points="557,596.2 570.3,596.2 570.3,592.2 579.2,601.2 570.3,610.2 570.3,606.2 557,606.2" fill="#fff" stroke="#050505" stroke-width="1.6" stroke-linejoin="miter"/>
<polyline points="557,633.2 570.3,633.2 570.3,629.2 579.2,638.2 570.3,647.2 570.3,643.2 557,643.2" fill="#fff" stroke="#050505" stroke-width="1.6" stroke-linejoin="miter"/>
<polyline points="423.8,329.3 423.8,348 376.3,348 376.3,370.5 372,370.5 381,380 390,370.5 385.5,370.5 385.5,357.3 432,357.3 432,329.3" fill="none" stroke="#050505" stroke-width="1.6" stroke-linejoin="miter"/>
<polyline points="446.2,329.3 446.2,370.5 441.2,370.5 450.6,379.8 460,370.5 455,370.5 455,329.3" fill="#fff" stroke="#050505" stroke-width="1.6" stroke-linejoin="miter"/>
<polyline points="510,365.3 510,371 506,371 515,379.8 524,371 520,371 520,365.3" fill="#fff" stroke="#050505" stroke-width="1.6" stroke-linejoin="miter"/>
<polyline points="344.3,380.3 344.3,338.5 340,338.5 348.8,329.4 357.6,338.5 353.3,338.5 353.3,380.3" fill="#fff" stroke="#050505" stroke-width="1.6" stroke-linejoin="miter"/>
<polyline points="620.3,412.3 620.3,438.6 759.5,438.6 759.5,416.3 764,416.3 754.3,406.5 745.3,416.3 750,416.3 750,429.8 629,429.8 629,412.3" fill="none" stroke="#050505" stroke-width="1.6" stroke-linejoin="miter"/>
<polyline points="821.8,231 821.8,250 813.8,250 813.8,458.2 616.3,458.2 616.3,453.8 607.2,463 616.3,472.4 616.3,467.3 823.2,467.3 823.2,258.8 831,258.8 831,231" fill="none" stroke="#050505" stroke-width="1.6" stroke-linejoin="miter"/>
<polyline points="607.2,480.5 653.8,480.5 653.8,495 657.6,495 648.7,503.6 638.8,495 643.8,495 643.8,489.5 607.2,489.5" fill="none" stroke="#050505" stroke-width="1.6" stroke-linejoin="miter"/>
<polyline points="876.5,267.5 859.5,267.5" fill="none" stroke="#050505" stroke-width="1.6" stroke-linejoin="miter"/>
<polygon points="855,267.5 861,264.8 861,270.2" fill="#050505"/>
<polyline points="876.5,285.7 859.5,285.7" fill="none" stroke="#050505" stroke-width="1.6" stroke-linejoin="miter"/>
<polygon points="855,285.7 861,283 861,288.4" fill="#050505"/>
<polyline points="876.5,304.5 859.5,304.5" fill="none" stroke="#050505" stroke-width="1.6" stroke-linejoin="miter"/>
<polygon points="855,304.5 861,301.8 861,307.2" fill="#050505"/>
<polyline points="876.5,323 859.5,323" fill="none" stroke="#050505" stroke-width="1.6" stroke-linejoin="miter"/>
<polygon points="855,323 861,320.3 861,325.7" fill="#050505"/>
<polyline points="876.5,341.3 859.5,341.3" fill="none" stroke="#050505" stroke-width="1.6" stroke-linejoin="miter"/>
<polygon points="855,341.3 861,338.6 861,344" fill="#050505"/>
<polyline points="876.5,360 859.5,360" fill="none" stroke="#050505" stroke-width="1.6" stroke-linejoin="miter"/>
<polygon points="855,360 861,357.3 861,362.7" fill="#050505"/>
<polyline points="885.5,262.5 885.5,253.8 877.3,253.8 877.3,220.5 886,220.5" fill="none" stroke="#050505" stroke-width="1.6" stroke-linejoin="miter"/>
<polygon points="890.5,220.5 884.5,217.8 884.5,223.2" fill="#050505"/>
<polyline points="907.3,262.5 907.3,249" fill="none" stroke="#050505" stroke-width="1.6" stroke-linejoin="miter"/>
<polygon points="907.3,245 904.6,251 910,251" fill="#050505"/>
<polyline points="908,178.3 908,173.5" fill="none" stroke="#050505" stroke-width="1.6" stroke-linejoin="miter"/>
<polygon points="908,169.5 905.3,175.5 910.7,175.5" fill="#050505"/>
<polyline points="929,193 946.8,193 946.8,424.5 923,424.5" fill="none" stroke="#050505" stroke-width="1.6" stroke-linejoin="miter"/>
<polygon points="924.3,193 930.3,190.3 930.3,195.7" fill="#050505"/>
<polyline points="946.8,295 928.5,295" fill="none" stroke="#050505" stroke-width="1.6" stroke-linejoin="miter"/>
<polygon points="924,295 930,292.3 930,297.7" fill="#050505"/>
<circle cx="946.8" cy="295" r="2.2" fill="#050505"/>
<polyline points="892.3,364.5 892.3,388 855,388 855,558 675,558" fill="none" stroke="#050505" stroke-width="1.6" stroke-linejoin="miter"/>
<polygon points="670.7,558 676.7,555.3 676.7,560.7" fill="#050505"/>
<polyline points="901.3,364.5 901.3,397.5 864.3,397.5 864.3,498.8 887.5,498.8" fill="none" stroke="#050505" stroke-width="1.6" stroke-linejoin="miter"/>
<polygon points="891.8,498.8 885.8,496.1 885.8,501.5" fill="#050505"/>
<polyline points="910.5,364.5 910.5,407 873.5,407 873.5,480.2 886.5,480.2" fill="none" stroke="#050505" stroke-width="1.6" stroke-linejoin="miter"/>
<polygon points="891,480.2 885,477.5 885,482.9" fill="#050505"/>
<polyline points="924,345.8 933,345.8 933,415.5 882.3,415.5 882.3,461.5 886.5,461.5" fill="none" stroke="#050505" stroke-width="1.6" stroke-linejoin="miter"/>
<polygon points="891,461.5 885,458.8 885,464.2" fill="#050505"/>
<polyline points="904.3,429.5 904.3,438.3" fill="none" stroke="#050505" stroke-width="1.6" stroke-linejoin="miter"/>
<polyline points="896.8,438.3 914.3,438.3" fill="none" stroke="#050505" stroke-width="1.6" stroke-linejoin="miter"/>
<rect x="900.5" y="441.2" width="8.8" height="4.3" fill="#050505"/>
<polyline points="896.8,448.2 914.3,448.2" fill="none" stroke="#050505" stroke-width="1.6" stroke-linejoin="miter"/>
<polyline points="904.3,448.2 904.3,457" fill="none" stroke="#050505" stroke-width="1.6" stroke-linejoin="miter"/>
<polyline points="845.3,517 881.8,517" fill="none" stroke="#050505" stroke-width="1.6" stroke-linejoin="miter"/>
<circle cx="845.3" cy="517" r="2.2" fill="#050505"/>
<polyline points="881.8,535.8 863.8,535.8 863.8,568 670.5,568" fill="none" stroke="#050505" stroke-width="1.6" stroke-linejoin="miter"/>
<polyline points="881.8,553.5 873.6,553.5 873.6,577.5 675,577.5" fill="none" stroke="#050505" stroke-width="1.6" stroke-linejoin="miter"/>
<polygon points="670.7,577.5 676.7,574.8 676.7,580.2" fill="#050505"/>
<polyline points="670.5,585.5 876.6,585.5 876.6,574.3 882.5,574.3" fill="none" stroke="#050505" stroke-width="1.6" stroke-linejoin="miter" stroke-dasharray="6,3.5"/>
<polyline points="670.5,593.5 882.5,593.5" fill="none" stroke="#050505" stroke-width="1.6" stroke-linejoin="miter" stroke-dasharray="6,3.5"/>
<polyline points="670.5,601.3 876.6,601.3 876.6,613.5 882.5,613.5" fill="none" stroke="#050505" stroke-width="1.6" stroke-linejoin="miter" stroke-dasharray="6,3.5"/>
<polyline points="946.5,509.3 954.1,513.8 954.1,530.5 961.8,534.9 954.1,539.6 954.1,559.2 946.5,564.3" fill="none" stroke="#050505" stroke-width="2" stroke-linejoin="miter"/>
<polyline points="911,565.1 916.1,568.2 916.1,588 922,593.1 916.1,597.3 916.1,616.8 911,621.8" fill="none" stroke="#050505" stroke-width="2" stroke-linejoin="miter"/>
<text x="139.4" y="102" font-size="6.98" font-weight="bold" textLength="12.6" lengthAdjust="spacing" text-anchor="middle">INT</text>
<text x="230.8" y="102" font-size="6.98" font-weight="bold" textLength="40.3" lengthAdjust="spacing" text-anchor="middle">INTERRUPT</text>
<text x="230.6" y="111" font-size="6.98" font-weight="bold" textLength="34.1" lengthAdjust="spacingAndGlyphs" text-anchor="middle">CONTROL</text>
<text x="140.1" y="139.6" font-size="6.98" font-weight="bold" textLength="15.1" lengthAdjust="spacingAndGlyphs" text-anchor="middle">CSW</text>
<text x="139.8" y="176.3" font-size="6.98" font-weight="bold" textLength="13.3" lengthAdjust="spacingAndGlyphs" text-anchor="middle">CSR</text>
<text x="140.4" y="213.6" font-size="6.98" font-weight="bold" textLength="20.6" lengthAdjust="spacingAndGlyphs" text-anchor="middle">MODE</text>
<text x="140.6" y="251.1" font-size="6.98" font-weight="bold" textLength="14.1" lengthAdjust="spacing" text-anchor="middle">R/W</text>
<text x="741.8" y="212.8" font-size="6.98" font-weight="bold" textLength="55.8" lengthAdjust="spacing" text-anchor="middle">ADDRESS/DATA</text>
<text x="741.3" y="221.3" font-size="6.98" font-weight="bold" textLength="50.8" lengthAdjust="spacing" text-anchor="middle">MULTIPLEXER</text>
<text x="897.1" y="189.8" font-size="6.98" font-weight="bold" textLength="30.1" lengthAdjust="spacingAndGlyphs" text-anchor="middle">CHARGE</text>
<text x="897.6" y="198.5" font-size="6.98" font-weight="bold" textLength="19.1" lengthAdjust="spacingAndGlyphs" text-anchor="middle">PUMP</text>
<text x="370.4" y="314.1" font-size="6.98" font-weight="bold" textLength="14.1" lengthAdjust="spacingAndGlyphs" text-anchor="middle">SDB</text>
<text x="371" y="323" font-size="6.98" font-weight="bold" textLength="32.8" lengthAdjust="spacingAndGlyphs" text-anchor="middle">ADDRESS</text>
<text x="448" y="314.1" font-size="6.98" font-weight="bold" textLength="35.8" lengthAdjust="spacing" text-anchor="middle">VERTICAL</text>
<text x="448.4" y="323" font-size="6.98" font-weight="bold" textLength="34.1" lengthAdjust="spacingAndGlyphs" text-anchor="middle">COUNTER</text>
<text x="514.4" y="348.3" font-size="6.98" font-weight="bold" textLength="47.1" lengthAdjust="spacing" text-anchor="middle">HORIZONTAL</text>
<text x="514.6" y="357.3" font-size="6.98" font-weight="bold" textLength="34.1" lengthAdjust="spacingAndGlyphs" text-anchor="middle">COUNTER</text>
<text x="440" y="394.8" font-size="6.98" font-weight="bold" textLength="13.3" lengthAdjust="spacingAndGlyphs" text-anchor="middle">PLA</text>
<text x="440" y="403.5" font-size="6.98" font-weight="bold" textLength="33.3" lengthAdjust="spacingAndGlyphs" text-anchor="middle">CONTROL</text>
<text x="516.3" y="394.8" font-size="6.98" font-weight="bold" textLength="13.3" lengthAdjust="spacingAndGlyphs" text-anchor="middle">PLA</text>
<text x="516" y="403.5" font-size="6.98" font-weight="bold" textLength="33.8" lengthAdjust="spacingAndGlyphs" text-anchor="middle">CONTROL</text>
<text x="367.8" y="394.8" font-size="6.98" font-weight="bold" textLength="47.8" lengthAdjust="spacingAndGlyphs" text-anchor="middle">SUBTRACTOR</text>
<text x="368.8" y="403.5" font-size="6.98" font-weight="bold" textLength="15.8" lengthAdjust="spacing" text-anchor="middle">AND</text>
<text x="368.8" y="412.5" font-size="6.98" font-weight="bold" textLength="34.3" lengthAdjust="spacingAndGlyphs" text-anchor="middle">COMPARE</text>
<text x="753.8" y="341.9" font-size="6.98" font-weight="bold" textLength="25.3" lengthAdjust="spacing" text-anchor="middle">SPRITE</text>
<text x="754" y="350.8" font-size="6.98" font-weight="bold" textLength="30.8" lengthAdjust="spacing" text-anchor="middle">NUMBER</text>
<text x="753.4" y="360" font-size="6.98" font-weight="bold" textLength="34.6" lengthAdjust="spacing" text-anchor="middle">STORAGE</text>
<text x="753.4" y="374.8" font-size="6.98" font-weight="bold" textLength="22.1" lengthAdjust="spacing" text-anchor="middle">FIFTH</text>
<text x="752.8" y="383.8" font-size="6.98" font-weight="bold" textLength="24.8" lengthAdjust="spacingAndGlyphs" text-anchor="middle">SPRITE</text>
<text x="243.5" y="304.8" font-size="6.98" font-weight="bold" textLength="11.8" lengthAdjust="spacingAndGlyphs" text-anchor="middle">LSB</text>
<text x="243.5" y="360.4" font-size="6.98" font-weight="bold" textLength="13.3" lengthAdjust="spacingAndGlyphs" text-anchor="middle">MSB</text>
<text x="300.1" y="409" font-size="6.98" font-weight="bold" textLength="21.6" lengthAdjust="spacing" text-anchor="middle">NAME</text>
<text x="301.1" y="417.6" font-size="6.98" font-weight="bold" textLength="24.6" lengthAdjust="spacing" text-anchor="middle">LATCH</text>
<text x="163.1" y="455.4" font-size="6.98" font-weight="bold" textLength="27.6" lengthAdjust="spacing" text-anchor="middle">STATUS</text>
<text x="163.8" y="464.4" font-size="6.98" font-weight="bold" textLength="35.3" lengthAdjust="spacingAndGlyphs" text-anchor="middle">REGISTER</text>
<text x="259.1" y="458" font-size="6.98" font-weight="bold" textLength="15.8" lengthAdjust="spacingAndGlyphs" text-anchor="middle">CPU ·</text>
<text x="258.5" y="466.6" font-size="6.98" font-weight="bold" textLength="19.8" lengthAdjust="spacing" text-anchor="middle">DATA</text>
<text x="383.6" y="636.3" font-size="6.98" font-weight="bold" textLength="42.1" lengthAdjust="spacing" text-anchor="middle">PATT. SHIFT</text>
<text x="384.3" y="645" font-size="6.98" font-weight="bold" textLength="34.8" lengthAdjust="spacingAndGlyphs" text-anchor="middle">REGISTER</text>
<text x="629.1" y="488.3" font-size="6.98" font-weight="bold" textLength="40.1" lengthAdjust="spacingAndGlyphs" text-anchor="middle">COLOR BUS</text>
<text x="646.3" y="526.8" font-size="6.98" font-weight="bold" textLength="24.3" lengthAdjust="spacingAndGlyphs" text-anchor="middle">COLOR</text>
<text x="646.6" y="535.9" font-size="6.98" font-weight="bold" textLength="34.1" lengthAdjust="spacingAndGlyphs" text-anchor="middle">DECODER</text>
<text x="646.9" y="572.3" font-size="6.98" font-weight="bold" textLength="22.1" lengthAdjust="spacing" text-anchor="middle">VIDEO</text>
<text x="646.9" y="581" font-size="6.98" font-weight="bold" textLength="22.1" lengthAdjust="spacingAndGlyphs" text-anchor="middle">LOGIC</text>
<text x="233.1" y="526" font-size="6.98" font-weight="bold" textLength="35.1" lengthAdjust="spacing" text-anchor="middle">SPRITE #1</text>
<text x="233.3" y="535.1" font-size="6.98" font-weight="bold" textLength="43.8" lengthAdjust="spacingAndGlyphs" text-anchor="middle">DOWN CNTR.</text>
<text x="233.1" y="562.7" font-size="6.98" font-weight="bold" textLength="35.1" lengthAdjust="spacing" text-anchor="middle">SPRITE #2</text>
<text x="233.3" y="571.8" font-size="6.98" font-weight="bold" textLength="43.8" lengthAdjust="spacingAndGlyphs" text-anchor="middle">DOWN CNTR.</text>
<text x="233.1" y="599.7" font-size="6.98" font-weight="bold" textLength="35.1" lengthAdjust="spacing" text-anchor="middle">SPRITE #3</text>
<text x="233.3" y="608.8" font-size="6.98" font-weight="bold" textLength="43.8" lengthAdjust="spacingAndGlyphs" text-anchor="middle">DOWN CNTR.</text>
<text x="233.1" y="637.2" font-size="6.98" font-weight="bold" textLength="35.1" lengthAdjust="spacing" text-anchor="middle">SPRITE #4</text>
<text x="233.3" y="646.3" font-size="6.98" font-weight="bold" textLength="43.8" lengthAdjust="spacingAndGlyphs" text-anchor="middle">DOWN CNTR.</text>
<text x="380.5" y="489" font-size="6.98" font-weight="bold" textLength="35.8" lengthAdjust="spacing" text-anchor="middle">SPRITE #1</text>
<text x="380.9" y="497.9" font-size="6.98" font-weight="bold" textLength="40.1" lengthAdjust="spacing" text-anchor="middle">SHIFT REG.</text>
<text x="380.5" y="526.5" font-size="6.98" font-weight="bold" textLength="35.8" lengthAdjust="spacing" text-anchor="middle">SPRITE #2</text>
<text x="380.9" y="535.4" font-size="6.98" font-weight="bold" textLength="40.1" lengthAdjust="spacing" text-anchor="middle">SHIFT REG.</text>
<text x="380.5" y="562.7" font-size="6.98" font-weight="bold" textLength="35.8" lengthAdjust="spacing" text-anchor="middle">SPRITE #3</text>
<text x="380.9" y="571.6" font-size="6.98" font-weight="bold" textLength="40.1" lengthAdjust="spacing" text-anchor="middle">SHIFT REG.</text>
<text x="380.5" y="599.2" font-size="6.98" font-weight="bold" textLength="35.8" lengthAdjust="spacing" text-anchor="middle">SPRITE #4</text>
<text x="380.9" y="608.1" font-size="6.98" font-weight="bold" textLength="40.1" lengthAdjust="spacing" text-anchor="middle">SHIFT REG.</text>
<text x="507.8" y="452" font-size="6.98" font-weight="bold" textLength="50.8" lengthAdjust="spacing" text-anchor="middle">FOREGROUND</text>
<text x="508" y="460.8" font-size="6.98" font-weight="bold" textLength="24.8" lengthAdjust="spacingAndGlyphs" text-anchor="middle">COLOR</text>
<text x="507.8" y="488.4" font-size="6.98" font-weight="bold" textLength="50.3" lengthAdjust="spacingAndGlyphs" text-anchor="middle">BACKGROUND</text>
<text x="508" y="497.2" font-size="6.98" font-weight="bold" textLength="24.8" lengthAdjust="spacingAndGlyphs" text-anchor="middle">COLOR</text>
<text x="507.8" y="525.3" font-size="6.98" font-weight="bold" textLength="35.1" lengthAdjust="spacing" text-anchor="middle">SPRITE #1</text>
<text x="508" y="534.1" font-size="6.98" font-weight="bold" textLength="24.8" lengthAdjust="spacingAndGlyphs" text-anchor="middle">COLOR</text>
<text x="507.8" y="562.7" font-size="6.98" font-weight="bold" textLength="35.1" lengthAdjust="spacing" text-anchor="middle">SPRITE #2</text>
<text x="508" y="571.5" font-size="6.98" font-weight="bold" textLength="24.8" lengthAdjust="spacingAndGlyphs" text-anchor="middle">COLOR</text>
<text x="507.8" y="598.5" font-size="6.98" font-weight="bold" textLength="35.1" lengthAdjust="spacing" text-anchor="middle">SPRITE #3</text>
<text x="508" y="607.3" font-size="6.98" font-weight="bold" textLength="24.8" lengthAdjust="spacingAndGlyphs" text-anchor="middle">COLOR</text>
<text x="507.8" y="636.7" font-size="6.98" font-weight="bold" textLength="35.1" lengthAdjust="spacing" text-anchor="middle">SPRITE #4</text>
<text x="508" y="645.5" font-size="6.98" font-weight="bold" textLength="24.8" lengthAdjust="spacingAndGlyphs" text-anchor="middle">COLOR</text>
<text x="547" y="135.5" font-size="6.7" font-weight="bold" textLength="14.8" lengthAdjust="spacing" text-anchor="middle">VDP</text>
<text x="715.9" y="136.5" font-size="6.98" font-weight="bold" textLength="59.1" lengthAdjust="spacingAndGlyphs" text-anchor="middle">REGISTER BUS 8/</text>
<text x="740.3" y="169.4" font-size="6.98" font-weight="bold" textLength="87.8" lengthAdjust="spacingAndGlyphs" text-anchor="middle">ADDRESS OUTPUTS (0 - 7)</text>
<text x="629.6" y="288.3" font-size="6.42" font-weight="bold" textLength="32.1" lengthAdjust="spacingAndGlyphs" text-anchor="middle">COMMAND</text>
<text x="629.4" y="296.4" font-size="6.42" font-weight="bold" textLength="29.1" lengthAdjust="spacingAndGlyphs" text-anchor="middle">CONTROL</text>
<text x="754.4" y="279.1" font-size="6.15" font-weight="bold" textLength="29.1" lengthAdjust="spacingAndGlyphs" text-anchor="middle">ROW AND</text>
<text x="755.3" y="287" font-size="6.15" font-weight="bold" textLength="28.3" lengthAdjust="spacingAndGlyphs" text-anchor="middle">ADDRESS</text>
<text x="754.4" y="294.7" font-size="6.15" font-weight="bold" textLength="47.6" lengthAdjust="spacingAndGlyphs" text-anchor="middle">DATA CONTROL</text>
<text x="620.5" y="313.45" font-size="7.4" font-weight="bold" textLength="88.8" lengthAdjust="spacingAndGlyphs" text-anchor="middle">RAM ADDRESS/DATA BUS</text>
<text x="908" y="167.2" font-size="6.15" font-weight="bold" textLength="15.8" lengthAdjust="spacingAndGlyphs" text-anchor="middle">VBB</text>
<text x="907.1" y="222.7" font-size="6.15" font-weight="bold" textLength="15.1" lengthAdjust="spacingAndGlyphs" text-anchor="middle">RAS</text>
<text x="907.8" y="242.5" font-size="6.15" font-weight="bold" textLength="13.8" lengthAdjust="spacingAndGlyphs" text-anchor="middle">CAS</text>
<text x="843" y="270.1" font-size="6.42" font-weight="bold" text-anchor="middle">ø12</text>
<text x="843" y="288.2" font-size="6.42" font-weight="bold" text-anchor="middle">ø34</text>
<text x="843" y="306.7" font-size="6.42" font-weight="bold" text-anchor="middle">ø1</text>
<text x="843" y="325.1" font-size="6.42" font-weight="bold" text-anchor="middle">ø2</text>
<text x="843" y="343.9" font-size="6.42" font-weight="bold" text-anchor="middle">ø3</text>
<text x="843" y="361.8" font-size="6.42" font-weight="bold" text-anchor="middle">ø4</text>
<text x="907" y="427.4" font-size="6.15" font-weight="bold" textLength="24.8" lengthAdjust="spacingAndGlyphs" text-anchor="middle">XTAL 1</text>
<text x="907" y="464.3" font-size="6.15" font-weight="bold" textLength="24.8" lengthAdjust="spacingAndGlyphs" text-anchor="middle">XTAL 2</text>
<text x="943.6" y="436.9" font-size="6.7" font-weight="bold" textLength="34.6" lengthAdjust="spacing" text-anchor="middle">10, 7 MHz</text>
<text x="941.8" y="454.5" font-size="6.98" font-weight="bold" textLength="32.3" lengthAdjust="spacing" text-anchor="middle">CRYSTAL</text>
<text x="907.5" y="482.4" font-size="6.15" font-weight="bold" textLength="29.3" lengthAdjust="spacingAndGlyphs" text-anchor="middle">ROMCLK</text>
<text x="907.5" y="500.7" font-size="6.15" font-weight="bold" textLength="29.3" lengthAdjust="spacingAndGlyphs" text-anchor="middle">CPUCLK</text>
<text x="903" y="519.6" font-size="6.7" font-weight="bold" textLength="39.8" lengthAdjust="spacing" text-anchor="middle">RST/XSYNC</text>
<text x="910.3" y="538" font-size="6.7" font-weight="bold" textLength="45.8" lengthAdjust="spacing" text-anchor="middle">COMP. VIDEO</text>
<text x="914.9" y="557.3" font-size="9.22" font-weight="normal" textLength="56.3" lengthAdjust="spacingAndGlyphs" text-anchor="middle">EXTN. VDP</text>
<text x="894.3" y="577.2" font-size="8.38" font-weight="bold" textLength="17.8" lengthAdjust="spacingAndGlyphs" text-anchor="middle">R-Y</text>
<text x="889.9" y="597.05" font-size="8.8" font-weight="bold" textLength="7.1" lengthAdjust="spacing" text-anchor="middle">Y</text>
<text x="895.5" y="616.5" font-size="8.38" font-weight="bold" textLength="19.1" lengthAdjust="spacingAndGlyphs" text-anchor="middle">B-Y</text>
<text transform="translate(970.5,537.5) rotate(90)" x="0" y="3.5" font-size="9.78" font-weight="bold" textLength="53.3" lengthAdjust="spacing" text-anchor="middle">TMS9918A</text>
<text transform="translate(941.1,595) rotate(90)" x="0" y="3.15" font-size="8.8" font-weight="bold" textLength="58.3" lengthAdjust="spacing" text-anchor="middle">TMS9928A/</text>
<text transform="translate(929,595.6) rotate(90)" x="0" y="3.15" font-size="8.8" font-weight="bold" textLength="32.1" lengthAdjust="spacing" text-anchor="middle">9929A</text>
<text transform="translate(210.4,214.3) rotate(90)" x="0" y="2.5" font-size="6.98" font-weight="bold" textLength="13.3" lengthAdjust="spacingAndGlyphs" text-anchor="middle">CPU</text>
<text transform="translate(201.6,214.4) rotate(90)" x="0" y="2.5" font-size="6.98" font-weight="bold" textLength="34.6" lengthAdjust="spacing" text-anchor="middle">CONTROL</text>
<text transform="translate(267.9,212.5) rotate(90)" x="0" y="2.5" font-size="6.98" font-weight="bold" textLength="35.8" lengthAdjust="spacing" text-anchor="middle">REGISTER</text>
<text transform="translate(259.1,212.3) rotate(90)" x="0" y="2.5" font-size="6.98" font-weight="bold" textLength="26.3" lengthAdjust="spacingAndGlyphs" text-anchor="middle">SELECT</text>
<text transform="translate(250.4,212.5) rotate(90)" x="0" y="2.5" font-size="6.98" font-weight="bold" textLength="34.8" lengthAdjust="spacingAndGlyphs" text-anchor="middle">DECODER</text>
<text transform="translate(326.6,215) rotate(90)" x="0" y="2.5" font-size="6.98" font-weight="bold" textLength="25.8" lengthAdjust="spacing" text-anchor="middle">SPRITE</text>
<text transform="translate(317.4,215.9) rotate(90)" x="0" y="2.5" font-size="6.98" font-weight="bold" textLength="45.1" lengthAdjust="spacingAndGlyphs" text-anchor="middle">DESCRIPTOR</text>
<text transform="translate(387.1,215) rotate(90)" x="0" y="2.5" font-size="6.98" font-weight="bold" textLength="53.3" lengthAdjust="spacing" text-anchor="middle">PATTERN BASE</text>
<text transform="translate(378.1,215.3) rotate(90)" x="0" y="2.5" font-size="6.98" font-weight="bold" textLength="36.3" lengthAdjust="spacing" text-anchor="middle">REGISTER</text>
<text transform="translate(442.6,213.6) rotate(90)" x="0" y="2.5" font-size="6.98" font-weight="bold" textLength="44.6" lengthAdjust="spacingAndGlyphs" text-anchor="middle">COLOR BASE</text>
<text transform="translate(433.9,214.5) rotate(90)" x="0" y="2.5" font-size="6.98" font-weight="bold" textLength="36.3" lengthAdjust="spacing" text-anchor="middle">REGISTER</text>
<text transform="translate(498.1,212.9) rotate(90)" x="0" y="2.5" font-size="6.98" font-weight="bold" textLength="40.1" lengthAdjust="spacingAndGlyphs" text-anchor="middle">NAME BASE</text>
<text transform="translate(489.6,213.8) rotate(90)" x="0" y="2.5" font-size="6.98" font-weight="bold" textLength="35.3" lengthAdjust="spacingAndGlyphs" text-anchor="middle">REGISTER</text>
<text transform="translate(555.1,215.6) rotate(90)" x="0" y="2.5" font-size="6.98" font-weight="bold" textLength="24.6" lengthAdjust="spacingAndGlyphs" text-anchor="middle">SPRITE</text>
<text transform="translate(546.4,215.6) rotate(90)" x="0" y="2.5" font-size="6.98" font-weight="bold" textLength="42.1" lengthAdjust="spacing" text-anchor="middle">ATTRIBUTE</text>
<text transform="translate(607.6,217.9) rotate(90)" x="0" y="2.5" font-size="6.98" font-weight="bold" textLength="37.6" lengthAdjust="spacing" text-anchor="middle">COMMAND</text>
<text transform="translate(598.9,217.3) rotate(90)" x="0" y="2.5" font-size="6.98" font-weight="bold" textLength="33.8" lengthAdjust="spacingAndGlyphs" text-anchor="middle">REGISTER</text>
<text transform="translate(663.6,217.9) rotate(90)" x="0" y="2.5" font-size="6.98" font-weight="bold" textLength="37.6" lengthAdjust="spacing" text-anchor="middle">COMMAND</text>
<text transform="translate(654.9,217.3) rotate(90)" x="0" y="2.5" font-size="6.98" font-weight="bold" textLength="33.8" lengthAdjust="spacingAndGlyphs" text-anchor="middle">REGISTER</text>
<text transform="translate(833.6,193.3) rotate(90)" x="0" y="2.5" font-size="6.98" font-weight="bold" textLength="48.3" lengthAdjust="spacing" text-anchor="middle">BORDER AND</text>
<text transform="translate(822.4,192.5) rotate(90)" x="0" y="2.5" font-size="6.98" font-weight="bold" textLength="45.8" lengthAdjust="spacing" text-anchor="middle">TEXT COLOR</text>
<text transform="translate(908.4,316) rotate(90)" x="0" y="2.5" font-size="6.98" font-weight="bold" textLength="25.8" lengthAdjust="spacing" text-anchor="middle">CLOCK</text>
<text transform="translate(900.5,316) rotate(90)" x="0" y="2.5" font-size="6.98" font-weight="bold" textLength="43.8" lengthAdjust="spacingAndGlyphs" text-anchor="middle">GENERATOR</text>
<text transform="translate(585.9,371.6) rotate(90)" x="0" y="2.5" font-size="6.98" font-weight="bold" textLength="44.6" lengthAdjust="spacing" text-anchor="middle">CHARACTER</text>
<text transform="translate(576.6,371.6) rotate(90)" x="0" y="2.5" font-size="6.98" font-weight="bold" textLength="34.6" lengthAdjust="spacing" text-anchor="middle">COUNTER</text>
<text transform="translate(631.6,374.1) rotate(90)" x="0" y="2.5" font-size="6.98" font-weight="bold" textLength="24.6" lengthAdjust="spacingAndGlyphs" text-anchor="middle">SPRITE</text>
<text transform="translate(622.9,372.5) rotate(90)" x="0" y="2.5" font-size="6.98" font-weight="bold" textLength="34.6" lengthAdjust="spacing" text-anchor="middle">COUNTER</text>
<text transform="translate(675.9,374.8) rotate(90)" x="0" y="2.5" font-size="6.98" font-weight="bold" textLength="40.8" lengthAdjust="spacing" text-anchor="middle">ATTRIBUTE</text>
<text transform="translate(667.6,372.5) rotate(90)" x="0" y="2.5" font-size="6.98" font-weight="bold" textLength="34.6" lengthAdjust="spacing" text-anchor="middle">COUNTER</text>
<text transform="translate(129.8,346.2) rotate(90)" x="0" y="2.5" font-size="6.98" font-weight="bold" textLength="76.8" lengthAdjust="spacing" text-anchor="middle">CPU DATA PORT (0 - 7)</text>
<text transform="translate(229.1,407.3) rotate(90)" x="0" y="2.5" font-size="6.98" font-weight="bold" textLength="50.8" lengthAdjust="spacingAndGlyphs" text-anchor="middle">CPU DATA BUS</text>
<text transform="translate(133.2,574.7) rotate(90)" x="0" y="2.5" font-size="6.98" font-weight="bold" textLength="84.8" lengthAdjust="spacing" text-anchor="middle">RAM DATA INPUTS (6 - 7)</text>
<text transform="translate(165.3,582) rotate(90)" x="0" y="2.5" font-size="6.98" font-weight="bold" textLength="65.8" lengthAdjust="spacing" text-anchor="middle">RAM DATA BUS 8/</text>
<text transform="translate(596.9,544.3) rotate(90)" x="0" y="2.5" font-size="6.98" font-weight="bold" textLength="126.8" lengthAdjust="spacing" text-anchor="middle">COLOR – PRIORITY – MULTIPLEXER</text>
<text transform="translate(588.5,544.3) rotate(90)" x="0" y="2.5" font-size="6.98" font-weight="bold" textLength="84.3" lengthAdjust="spacingAndGlyphs" text-anchor="middle">AND COLLISION DETECT</text>
<text transform="translate(631.4,638.5) rotate(90)" x="0" y="2.5" font-size="6.98" font-weight="bold" textLength="13.3" lengthAdjust="spacingAndGlyphs" text-anchor="middle">VCC</text>
<text transform="translate(653.9,638.5) rotate(90)" x="0" y="2.5" font-size="6.98" font-weight="bold" textLength="13.3" lengthAdjust="spacingAndGlyphs" text-anchor="middle">VSS</text>
<text x="371.3" y="299.9" font-size="6.7" font-weight="bold" text-anchor="middle">5/</text>
<text x="449.4" y="299.9" font-size="6.7" font-weight="bold" text-anchor="middle">5/</text>
<text x="514.4" y="302.9" font-size="6.7" font-weight="bold" text-anchor="middle">5/</text>
<text x="349.4" y="344.9" font-size="6.7" font-weight="bold" text-anchor="middle">5/</text>
<text x="578.1" y="327" font-size="6.7" font-weight="bold" text-anchor="middle">5/</text>
<text x="624.9" y="327" font-size="6.7" font-weight="bold" text-anchor="middle">5/</text>
<text x="671.1" y="327" font-size="6.7" font-weight="bold" text-anchor="middle">5/</text>
<text x="753.1" y="327" font-size="6.7" font-weight="bold" text-anchor="middle">5/</text>
<text x="380.9" y="364.4" font-size="6.98" font-weight="bold" text-anchor="middle">8/</text>
<text x="450.4" y="368.5" font-size="6.98" font-weight="bold" text-anchor="middle">8/</text>
<text x="291.6" y="350.5" font-size="6.98" font-weight="bold" text-anchor="middle">8/</text>
<text x="281.4" y="392.9" font-size="6.98" font-weight="bold" text-anchor="middle">8/</text>
<text x="306.6" y="383" font-size="6.98" font-weight="bold" text-anchor="middle">8/</text>
<text x="792.5" y="465.8" font-size="6.98" font-weight="bold" text-anchor="middle">8/</text>
<text x="754" y="423.5" font-size="6.98" font-weight="bold" text-anchor="middle">4/</text>
<text x="568.3" y="456.4" font-size="7.26" font-weight="bold" text-anchor="middle">4/</text>
<text x="568.3" y="493.4" font-size="7.26" font-weight="bold" text-anchor="middle">4/</text>
<text x="568.3" y="530.2" font-size="7.26" font-weight="bold" text-anchor="middle">4/</text>
<text x="568.3" y="567.2" font-size="7.26" font-weight="bold" text-anchor="middle">4/</text>
<text x="568.3" y="604.1" font-size="7.26" font-weight="bold" text-anchor="middle">4/</text>
<text x="568.3" y="641.1" font-size="7.26" font-weight="bold" text-anchor="middle">4/</text>
<text x="532.2" y="704.45" font-size="11.03" font-weight="bold" textLength="190.9" lengthAdjust="spacingAndGlyphs" text-anchor="middle">FIGURE 2-1 – VDP BLOCK DIAGRAM</text>
<text transform="translate(51,386.3) rotate(90)" x="0" y="4.8" font-size="13.41" font-weight="bold" textLength="17.5" lengthAdjust="spacingAndGlyphs" text-anchor="middle">2-2</text>
</svg>
</body></html>
